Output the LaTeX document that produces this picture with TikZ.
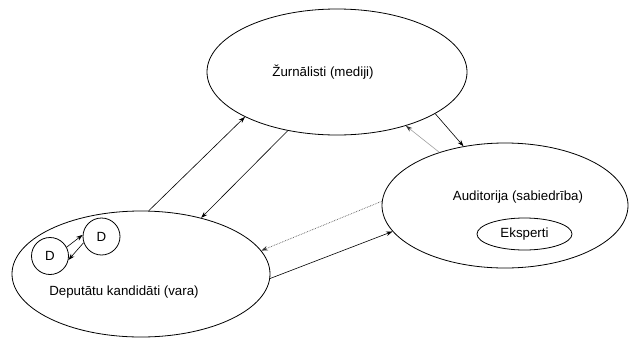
\documentclass[tikz,border=0pt]{standalone}
\usepackage{fontspec}
\setmainfont{Liberation Sans}
\usetikzlibrary{shapes.geometric,arrows.meta}
\begin{document}
\begin{tikzpicture}[x=1pt,y=-1pt,
  group/.style={draw, ellipse, line width=0.8pt, inner sep=0pt},
  dcirc/.style={draw, circle, line width=0.8pt, minimum size=37pt, inner sep=0pt, font=\fontsize{13.3}{16}\selectfont},
  lbl/.style={font=\fontsize{13.3}{16}\selectfont, inner sep=0pt},
  arr/.style={line width=0.6pt, -{Stealth[length=6.5pt,width=4.5pt]}},
  grayarr/.style={arr, draw=gray!75, -{Stealth[length=6.5pt,width=4.5pt,color=black!80]}},
  dotarr/.style={arr, draw=black!65, line width=0.7pt, densely dotted, -{Stealth[length=6.5pt,width=4.5pt,color=black!80]}}]
\useasboundingbox (0,0) rectangle (629,338);
% groups
\node[group, minimum width=260pt, minimum height=126pt] (T) at (337,72) {};
\node[group, minimum width=258pt, minimum height=126pt] (L) at (141,274) {};
\node[group, minimum width=246pt, minimum height=125pt] (R) at (505,205.5) {};
\node[group, minimum width=95pt, minimum height=32pt] (E) at (524.5,234) {};
% labels
\node[lbl] (tT) at (323,72) {Žurnālisti (mediji)};
\node[lbl] (tL) at (124,292) {Deputātu kandidāti (vara)};
\node[lbl] (tR) at (518,197) {Auditorija (sabiedrība)};
\node[lbl] (tE) at (E.center) {Eksperti};
% D circles
\node[dcirc] (D1) at (50,256) {D};
\node[dcirc] (D2) at (101.5,236.5) {D};
\draw[arr] (D1.28) -- (D2.175);
\draw[arr] (D2.199) -- (D1.-12);
% connectors
\draw[arr] (L.83.7) -- (T.206.1);
\draw[arr] (T.230.8) -- (L.43);
\draw[grayarr] (R.141.4) -- (T.-38.5);
\draw[arr] (T.-23.2) -- (R.125.7);
\draw[dotarr] (R.178.8) -- (L.11.3);
\draw[arr] (L.-2.2) -- (R.193.2);
\end{tikzpicture}
\end{document}
